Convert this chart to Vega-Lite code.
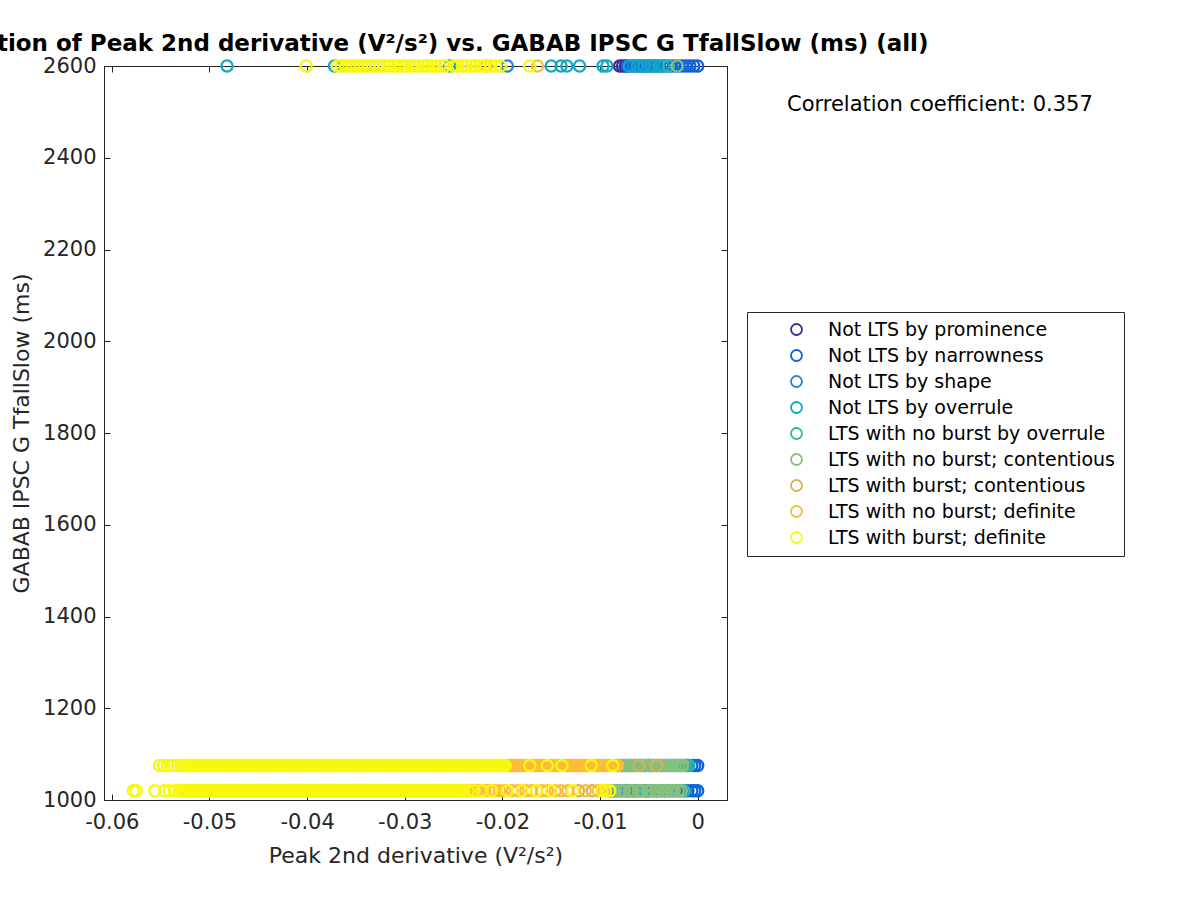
{
  "$schema": "https://vega.github.io/schema/vega-lite/v6.json",
  "width": 623,
  "height": 734,
  "autosize": {"type": "none"},
  "padding": {"left": 104, "top": 66, "right": 473, "bottom": 100},
  "background": "white",
  "title": {
    "text": "Correlation of Peak 2nd derivative (V²/s²) vs. GABAB IPSC G TfallSlow (ms) (all)",
    "font": "DejaVu Sans",
    "fontSize": 23,
    "fontWeight": "bold",
    "color": "black",
    "anchor": "middle",
    "frame": "group",
    "offset": -1
  },
  "config": {
    "view": {"stroke": "#262626", "strokeWidth": 1},
    "axis": {
      "labelFont": "DejaVu Sans",
      "titleFont": "DejaVu Sans",
      "labelFontSize": 21,
      "titleFontSize": 22,
      "titleFontWeight": "normal",
      "labelColor": "#262626",
      "titleColor": "#262626",
      "domainColor": "#262626",
      "tickColor": "#262626",
      "grid": false,
      "tickSize": -6,
      "labelPadding": 17
    }
  },
  "datasets": {
    "groups": [
      {"k": 1, "name": "Not LTS by prominence"},
      {"k": 2, "name": "Not LTS by narrowness"},
      {"k": 3, "name": "Not LTS by shape"},
      {"k": 4, "name": "Not LTS by overrule"},
      {"k": 5, "name": "LTS with no burst by overrule"},
      {"k": 6, "name": "LTS with no burst; contentious"},
      {"k": 7, "name": "LTS with burst; contentious"},
      {"k": 8, "name": "LTS with no burst; definite"},
      {"k": 9, "name": "LTS with burst; definite"}
    ],
    "note": [{"x": 0.0248, "y": 2515, "label": "Correlation coefficient: 0.357"}],
    "pts": [
      {"x": -0.0080, "y": 2600, "k": 1}, {"x": -0.0077, "y": 2600, "k": 1}, {"x": -0.0074, "y": 2600, "k": 1},

      {"x": -0.0090, "y": 1020, "k": 2}, {"x": -0.0086, "y": 1020, "k": 2}, {"x": -0.0082, "y": 1020, "k": 2}, {"x": -0.0078, "y": 1020, "k": 2},
      {"x": -0.0074, "y": 1020, "k": 2}, {"x": -0.0070, "y": 1020, "k": 2}, {"x": -0.0066, "y": 1020, "k": 2}, {"x": -0.0062, "y": 1020, "k": 2},
      {"x": -0.0058, "y": 1020, "k": 2}, {"x": -0.0054, "y": 1020, "k": 2}, {"x": -0.0050, "y": 1020, "k": 2}, {"x": -0.0046, "y": 1020, "k": 2},
      {"x": -0.0042, "y": 1020, "k": 2}, {"x": -0.0038, "y": 1020, "k": 2}, {"x": -0.0034, "y": 1020, "k": 2}, {"x": -0.0030, "y": 1020, "k": 2},
      {"x": -0.0026, "y": 1020, "k": 2}, {"x": -0.0022, "y": 1020, "k": 2}, {"x": -0.0018, "y": 1020, "k": 2}, {"x": -0.0014, "y": 1020, "k": 2},
      {"x": -0.0010, "y": 1020, "k": 2}, {"x": -0.0006, "y": 1020, "k": 2}, {"x": -0.0003, "y": 1020, "k": 2}, {"x": 0.0000, "y": 1020, "k": 2},
      {"x": -0.0082, "y": 1075, "k": 2}, {"x": -0.0078, "y": 1075, "k": 2}, {"x": -0.0074, "y": 1075, "k": 2}, {"x": -0.0070, "y": 1075, "k": 2},
      {"x": -0.0066, "y": 1075, "k": 2}, {"x": -0.0062, "y": 1075, "k": 2}, {"x": -0.0058, "y": 1075, "k": 2}, {"x": -0.0054, "y": 1075, "k": 2},
      {"x": -0.0050, "y": 1075, "k": 2}, {"x": -0.0046, "y": 1075, "k": 2}, {"x": -0.0042, "y": 1075, "k": 2}, {"x": -0.0038, "y": 1075, "k": 2},
      {"x": -0.0034, "y": 1075, "k": 2}, {"x": -0.0030, "y": 1075, "k": 2}, {"x": -0.0026, "y": 1075, "k": 2}, {"x": -0.0022, "y": 1075, "k": 2},
      {"x": -0.0018, "y": 1075, "k": 2}, {"x": -0.0014, "y": 1075, "k": 2}, {"x": -0.0010, "y": 1075, "k": 2}, {"x": -0.0006, "y": 1075, "k": 2},
      {"x": -0.0003, "y": 1075, "k": 2}, {"x": 0.0000, "y": 1075, "k": 2},
      {"x": -0.0072, "y": 2600, "k": 2}, {"x": -0.0068, "y": 2600, "k": 2}, {"x": -0.0064, "y": 2600, "k": 2}, {"x": -0.0060, "y": 2600, "k": 2},
      {"x": -0.0056, "y": 2600, "k": 2}, {"x": -0.0052, "y": 2600, "k": 2}, {"x": -0.0048, "y": 2600, "k": 2}, {"x": -0.0044, "y": 2600, "k": 2},
      {"x": -0.0040, "y": 2600, "k": 2}, {"x": -0.0036, "y": 2600, "k": 2}, {"x": -0.0032, "y": 2600, "k": 2}, {"x": -0.0028, "y": 2600, "k": 2},
      {"x": -0.0024, "y": 2600, "k": 2}, {"x": -0.0020, "y": 2600, "k": 2}, {"x": -0.0016, "y": 2600, "k": 2}, {"x": -0.0012, "y": 2600, "k": 2},
      {"x": -0.0008, "y": 2600, "k": 2}, {"x": -0.0004, "y": 2600, "k": 2}, {"x": 0.0000, "y": 2600, "k": 2},

      {"x": -0.0072, "y": 1020, "k": 3}, {"x": -0.0053, "y": 1020, "k": 3},
      {"x": -0.0195, "y": 2600, "k": 3}, {"x": -0.0066, "y": 2600, "k": 3}, {"x": -0.0058, "y": 2600, "k": 3}, {"x": -0.0051, "y": 2600, "k": 3}, {"x": -0.0044, "y": 2600, "k": 3},

      {"x": -0.0064, "y": 1020, "k": 4},
      {"x": -0.0482, "y": 2600, "k": 4}, {"x": -0.0372, "y": 2600, "k": 4}, {"x": -0.0254, "y": 2600, "k": 4}, {"x": -0.0150, "y": 2600, "k": 4},
      {"x": -0.0140, "y": 2600, "k": 4}, {"x": -0.0134, "y": 2600, "k": 4}, {"x": -0.0121, "y": 2600, "k": 4}, {"x": -0.0097, "y": 2600, "k": 4},
      {"x": -0.0093, "y": 2600, "k": 4}, {"x": -0.0070, "y": 2600, "k": 4}, {"x": -0.0062, "y": 2600, "k": 4}, {"x": -0.0055, "y": 2600, "k": 4},
      {"x": -0.0048, "y": 2600, "k": 4}, {"x": -0.0040, "y": 2600, "k": 4}, {"x": -0.0035, "y": 2600, "k": 4},

      {"x": -0.0014, "y": 1020, "k": 5}, {"x": -0.0012, "y": 1075, "k": 5}, {"x": -0.0009, "y": 1075, "k": 5}, {"x": -0.0030, "y": 2600, "k": 5},

      {"x": -0.0088, "y": 1020, "k": 6}, {"x": -0.0084, "y": 1020, "k": 6}, {"x": -0.0080, "y": 1020, "k": 6}, {"x": -0.0075, "y": 1020, "k": 6},
      {"x": -0.0070, "y": 1020, "k": 6}, {"x": -0.0066, "y": 1020, "k": 6}, {"x": -0.0061, "y": 1020, "k": 6}, {"x": -0.0057, "y": 1020, "k": 6},
      {"x": -0.0052, "y": 1020, "k": 6}, {"x": -0.0048, "y": 1020, "k": 6}, {"x": -0.0044, "y": 1020, "k": 6}, {"x": -0.0040, "y": 1020, "k": 6},
      {"x": -0.0036, "y": 1020, "k": 6}, {"x": -0.0032, "y": 1020, "k": 6}, {"x": -0.0028, "y": 1020, "k": 6}, {"x": -0.0024, "y": 1020, "k": 6},
      {"x": -0.0020, "y": 1020, "k": 6}, {"x": -0.0017, "y": 1020, "k": 6},
      {"x": -0.0086, "y": 1020, "k": 6}, {"x": -0.0078, "y": 1020, "k": 6}, {"x": -0.0068, "y": 1020, "k": 6}, {"x": -0.0059, "y": 1020, "k": 6},
      {"x": -0.0050, "y": 1020, "k": 6}, {"x": -0.0042, "y": 1020, "k": 6}, {"x": -0.0034, "y": 1020, "k": 6}, {"x": -0.0026, "y": 1020, "k": 6},
      {"x": -0.0080, "y": 1075, "k": 6}, {"x": -0.0077, "y": 1075, "k": 6}, {"x": -0.0074, "y": 1075, "k": 6}, {"x": -0.0071, "y": 1075, "k": 6},
      {"x": -0.0068, "y": 1075, "k": 6}, {"x": -0.0065, "y": 1075, "k": 6}, {"x": -0.0062, "y": 1075, "k": 6}, {"x": -0.0059, "y": 1075, "k": 6},
      {"x": -0.0056, "y": 1075, "k": 6}, {"x": -0.0053, "y": 1075, "k": 6}, {"x": -0.0050, "y": 1075, "k": 6}, {"x": -0.0047, "y": 1075, "k": 6},
      {"x": -0.0044, "y": 1075, "k": 6}, {"x": -0.0041, "y": 1075, "k": 6}, {"x": -0.0038, "y": 1075, "k": 6}, {"x": -0.0035, "y": 1075, "k": 6},
      {"x": -0.0032, "y": 1075, "k": 6}, {"x": -0.0029, "y": 1075, "k": 6}, {"x": -0.0026, "y": 1075, "k": 6}, {"x": -0.0023, "y": 1075, "k": 6},
      {"x": -0.0020, "y": 1075, "k": 6}, {"x": -0.0017, "y": 1075, "k": 6}, {"x": -0.0015, "y": 1075, "k": 6},
      {"x": -0.0021, "y": 2600, "k": 6},

      {"x": -0.0122, "y": 1020, "k": 7}, {"x": -0.0108, "y": 1020, "k": 7},
      {"x": -0.0060, "y": 1075, "k": 7}, {"x": -0.0042, "y": 1075, "k": 7},

      {"x": -0.0236, "y": 1020, "k": 8}, {"x": -0.0232, "y": 1020, "k": 8}, {"x": -0.0227, "y": 1020, "k": 8}, {"x": -0.0223, "y": 1020, "k": 8},
      {"x": -0.0218, "y": 1020, "k": 8}, {"x": -0.0214, "y": 1020, "k": 8}, {"x": -0.0208, "y": 1020, "k": 8}, {"x": -0.0203, "y": 1020, "k": 8},
      {"x": -0.0198, "y": 1020, "k": 8}, {"x": -0.0190, "y": 1020, "k": 8}, {"x": -0.0184, "y": 1020, "k": 8}, {"x": -0.0176, "y": 1020, "k": 8},
      {"x": -0.0170, "y": 1020, "k": 8}, {"x": -0.0160, "y": 1020, "k": 8}, {"x": -0.0154, "y": 1020, "k": 8}, {"x": -0.0146, "y": 1020, "k": 8},
      {"x": -0.0140, "y": 1020, "k": 8}, {"x": -0.0133, "y": 1020, "k": 8}, {"x": -0.0115, "y": 1020, "k": 8}, {"x": -0.0102, "y": 1020, "k": 8},
      {"x": -0.0096, "y": 1020, "k": 8},
      {"x": -0.0194, "y": 1075, "k": 8}, {"x": -0.0190, "y": 1075, "k": 8}, {"x": -0.0186, "y": 1075, "k": 8}, {"x": -0.0182, "y": 1075, "k": 8},
      {"x": -0.0178, "y": 1075, "k": 8}, {"x": -0.0174, "y": 1075, "k": 8}, {"x": -0.0170, "y": 1075, "k": 8}, {"x": -0.0166, "y": 1075, "k": 8},
      {"x": -0.0162, "y": 1075, "k": 8}, {"x": -0.0158, "y": 1075, "k": 8}, {"x": -0.0154, "y": 1075, "k": 8}, {"x": -0.0150, "y": 1075, "k": 8},
      {"x": -0.0146, "y": 1075, "k": 8}, {"x": -0.0142, "y": 1075, "k": 8}, {"x": -0.0138, "y": 1075, "k": 8}, {"x": -0.0134, "y": 1075, "k": 8},
      {"x": -0.0130, "y": 1075, "k": 8}, {"x": -0.0126, "y": 1075, "k": 8}, {"x": -0.0122, "y": 1075, "k": 8}, {"x": -0.0118, "y": 1075, "k": 8},
      {"x": -0.0114, "y": 1075, "k": 8}, {"x": -0.0110, "y": 1075, "k": 8}, {"x": -0.0106, "y": 1075, "k": 8}, {"x": -0.0102, "y": 1075, "k": 8},
      {"x": -0.0098, "y": 1075, "k": 8}, {"x": -0.0094, "y": 1075, "k": 8}, {"x": -0.0090, "y": 1075, "k": 8}, {"x": -0.0086, "y": 1075, "k": 8},
      {"x": -0.0082, "y": 1075, "k": 8},
      {"x": -0.0192, "y": 1075, "k": 8}, {"x": -0.0188, "y": 1075, "k": 8}, {"x": -0.0184, "y": 1075, "k": 8}, {"x": -0.0180, "y": 1075, "k": 8},
      {"x": -0.0176, "y": 1075, "k": 8}, {"x": -0.0172, "y": 1075, "k": 8}, {"x": -0.0168, "y": 1075, "k": 8}, {"x": -0.0164, "y": 1075, "k": 8},
      {"x": -0.0160, "y": 1075, "k": 8}, {"x": -0.0156, "y": 1075, "k": 8}, {"x": -0.0152, "y": 1075, "k": 8}, {"x": -0.0148, "y": 1075, "k": 8},
      {"x": -0.0144, "y": 1075, "k": 8}, {"x": -0.0140, "y": 1075, "k": 8}, {"x": -0.0136, "y": 1075, "k": 8}, {"x": -0.0132, "y": 1075, "k": 8},
      {"x": -0.0128, "y": 1075, "k": 8}, {"x": -0.0124, "y": 1075, "k": 8}, {"x": -0.0120, "y": 1075, "k": 8}, {"x": -0.0116, "y": 1075, "k": 8},
      {"x": -0.0112, "y": 1075, "k": 8}, {"x": -0.0108, "y": 1075, "k": 8}, {"x": -0.0104, "y": 1075, "k": 8}, {"x": -0.0100, "y": 1075, "k": 8},
      {"x": -0.0096, "y": 1075, "k": 8}, {"x": -0.0092, "y": 1075, "k": 8}, {"x": -0.0088, "y": 1075, "k": 8}, {"x": -0.0084, "y": 1075, "k": 8},
      {"x": -0.0216, "y": 2600, "k": 8}, {"x": -0.0164, "y": 2600, "k": 8},

      {"x": -0.0578, "y": 1020, "k": 9}, {"x": -0.0575, "y": 1020, "k": 9}, {"x": -0.0556, "y": 1020, "k": 9}, {"x": -0.0546, "y": 1020, "k": 9},
      {"x": -0.0541, "y": 1020, "k": 9}, {"x": -0.0536, "y": 1020, "k": 9}, {"x": -0.0531, "y": 1020, "k": 9},
      {"x": -0.0528, "y": 1020, "k": 9}, {"x": -0.0525, "y": 1020, "k": 9}, {"x": -0.0522, "y": 1020, "k": 9}, {"x": -0.0519, "y": 1020, "k": 9},
      {"x": -0.0516, "y": 1020, "k": 9}, {"x": -0.0513, "y": 1020, "k": 9}, {"x": -0.0510, "y": 1020, "k": 9}, {"x": -0.0507, "y": 1020, "k": 9},
      {"x": -0.0504, "y": 1020, "k": 9}, {"x": -0.0501, "y": 1020, "k": 9}, {"x": -0.0498, "y": 1020, "k": 9}, {"x": -0.0495, "y": 1020, "k": 9},
      {"x": -0.0492, "y": 1020, "k": 9}, {"x": -0.0489, "y": 1020, "k": 9}, {"x": -0.0486, "y": 1020, "k": 9}, {"x": -0.0483, "y": 1020, "k": 9},
      {"x": -0.0480, "y": 1020, "k": 9}, {"x": -0.0477, "y": 1020, "k": 9}, {"x": -0.0474, "y": 1020, "k": 9}, {"x": -0.0471, "y": 1020, "k": 9},
      {"x": -0.0468, "y": 1020, "k": 9}, {"x": -0.0465, "y": 1020, "k": 9}, {"x": -0.0462, "y": 1020, "k": 9}, {"x": -0.0459, "y": 1020, "k": 9},
      {"x": -0.0456, "y": 1020, "k": 9}, {"x": -0.0453, "y": 1020, "k": 9}, {"x": -0.0450, "y": 1020, "k": 9}, {"x": -0.0447, "y": 1020, "k": 9},
      {"x": -0.0444, "y": 1020, "k": 9}, {"x": -0.0441, "y": 1020, "k": 9}, {"x": -0.0438, "y": 1020, "k": 9}, {"x": -0.0435, "y": 1020, "k": 9},
      {"x": -0.0432, "y": 1020, "k": 9}, {"x": -0.0429, "y": 1020, "k": 9}, {"x": -0.0426, "y": 1020, "k": 9}, {"x": -0.0423, "y": 1020, "k": 9},
      {"x": -0.0420, "y": 1020, "k": 9}, {"x": -0.0417, "y": 1020, "k": 9}, {"x": -0.0414, "y": 1020, "k": 9}, {"x": -0.0411, "y": 1020, "k": 9},
      {"x": -0.0408, "y": 1020, "k": 9}, {"x": -0.0405, "y": 1020, "k": 9}, {"x": -0.0402, "y": 1020, "k": 9}, {"x": -0.0399, "y": 1020, "k": 9},
      {"x": -0.0396, "y": 1020, "k": 9}, {"x": -0.0393, "y": 1020, "k": 9}, {"x": -0.0390, "y": 1020, "k": 9}, {"x": -0.0387, "y": 1020, "k": 9},
      {"x": -0.0384, "y": 1020, "k": 9}, {"x": -0.0381, "y": 1020, "k": 9}, {"x": -0.0378, "y": 1020, "k": 9}, {"x": -0.0375, "y": 1020, "k": 9},
      {"x": -0.0372, "y": 1020, "k": 9}, {"x": -0.0369, "y": 1020, "k": 9}, {"x": -0.0366, "y": 1020, "k": 9}, {"x": -0.0363, "y": 1020, "k": 9},
      {"x": -0.0360, "y": 1020, "k": 9}, {"x": -0.0357, "y": 1020, "k": 9}, {"x": -0.0354, "y": 1020, "k": 9}, {"x": -0.0351, "y": 1020, "k": 9},
      {"x": -0.0348, "y": 1020, "k": 9}, {"x": -0.0345, "y": 1020, "k": 9}, {"x": -0.0342, "y": 1020, "k": 9}, {"x": -0.0339, "y": 1020, "k": 9},
      {"x": -0.0336, "y": 1020, "k": 9}, {"x": -0.0333, "y": 1020, "k": 9}, {"x": -0.0330, "y": 1020, "k": 9}, {"x": -0.0327, "y": 1020, "k": 9},
      {"x": -0.0324, "y": 1020, "k": 9}, {"x": -0.0321, "y": 1020, "k": 9}, {"x": -0.0318, "y": 1020, "k": 9}, {"x": -0.0315, "y": 1020, "k": 9},
      {"x": -0.0312, "y": 1020, "k": 9}, {"x": -0.0309, "y": 1020, "k": 9}, {"x": -0.0306, "y": 1020, "k": 9}, {"x": -0.0303, "y": 1020, "k": 9},
      {"x": -0.0300, "y": 1020, "k": 9}, {"x": -0.0297, "y": 1020, "k": 9}, {"x": -0.0294, "y": 1020, "k": 9}, {"x": -0.0291, "y": 1020, "k": 9},
      {"x": -0.0288, "y": 1020, "k": 9}, {"x": -0.0285, "y": 1020, "k": 9}, {"x": -0.0282, "y": 1020, "k": 9}, {"x": -0.0279, "y": 1020, "k": 9},
      {"x": -0.0276, "y": 1020, "k": 9}, {"x": -0.0273, "y": 1020, "k": 9}, {"x": -0.0270, "y": 1020, "k": 9}, {"x": -0.0267, "y": 1020, "k": 9},
      {"x": -0.0264, "y": 1020, "k": 9}, {"x": -0.0261, "y": 1020, "k": 9}, {"x": -0.0258, "y": 1020, "k": 9}, {"x": -0.0255, "y": 1020, "k": 9},
      {"x": -0.0252, "y": 1020, "k": 9}, {"x": -0.0249, "y": 1020, "k": 9}, {"x": -0.0246, "y": 1020, "k": 9}, {"x": -0.0243, "y": 1020, "k": 9},
      {"x": -0.0240, "y": 1020, "k": 9},
      {"x": -0.0527, "y": 1020, "k": 9}, {"x": -0.0524, "y": 1020, "k": 9}, {"x": -0.0521, "y": 1020, "k": 9}, {"x": -0.0518, "y": 1020, "k": 9},
      {"x": -0.0515, "y": 1020, "k": 9}, {"x": -0.0512, "y": 1020, "k": 9}, {"x": -0.0509, "y": 1020, "k": 9}, {"x": -0.0506, "y": 1020, "k": 9},
      {"x": -0.0503, "y": 1020, "k": 9}, {"x": -0.0500, "y": 1020, "k": 9}, {"x": -0.0497, "y": 1020, "k": 9}, {"x": -0.0494, "y": 1020, "k": 9},
      {"x": -0.0491, "y": 1020, "k": 9}, {"x": -0.0488, "y": 1020, "k": 9}, {"x": -0.0485, "y": 1020, "k": 9}, {"x": -0.0482, "y": 1020, "k": 9},
      {"x": -0.0479, "y": 1020, "k": 9}, {"x": -0.0476, "y": 1020, "k": 9}, {"x": -0.0473, "y": 1020, "k": 9}, {"x": -0.0470, "y": 1020, "k": 9},
      {"x": -0.0467, "y": 1020, "k": 9}, {"x": -0.0464, "y": 1020, "k": 9}, {"x": -0.0461, "y": 1020, "k": 9}, {"x": -0.0458, "y": 1020, "k": 9},
      {"x": -0.0455, "y": 1020, "k": 9}, {"x": -0.0452, "y": 1020, "k": 9}, {"x": -0.0449, "y": 1020, "k": 9}, {"x": -0.0446, "y": 1020, "k": 9},
      {"x": -0.0443, "y": 1020, "k": 9}, {"x": -0.0440, "y": 1020, "k": 9}, {"x": -0.0437, "y": 1020, "k": 9}, {"x": -0.0434, "y": 1020, "k": 9},
      {"x": -0.0431, "y": 1020, "k": 9}, {"x": -0.0428, "y": 1020, "k": 9}, {"x": -0.0425, "y": 1020, "k": 9}, {"x": -0.0422, "y": 1020, "k": 9},
      {"x": -0.0419, "y": 1020, "k": 9}, {"x": -0.0416, "y": 1020, "k": 9}, {"x": -0.0413, "y": 1020, "k": 9}, {"x": -0.0410, "y": 1020, "k": 9},
      {"x": -0.0407, "y": 1020, "k": 9}, {"x": -0.0404, "y": 1020, "k": 9}, {"x": -0.0401, "y": 1020, "k": 9}, {"x": -0.0398, "y": 1020, "k": 9},
      {"x": -0.0395, "y": 1020, "k": 9}, {"x": -0.0392, "y": 1020, "k": 9}, {"x": -0.0389, "y": 1020, "k": 9}, {"x": -0.0386, "y": 1020, "k": 9},
      {"x": -0.0383, "y": 1020, "k": 9}, {"x": -0.0380, "y": 1020, "k": 9}, {"x": -0.0377, "y": 1020, "k": 9}, {"x": -0.0374, "y": 1020, "k": 9},
      {"x": -0.0371, "y": 1020, "k": 9}, {"x": -0.0368, "y": 1020, "k": 9}, {"x": -0.0365, "y": 1020, "k": 9}, {"x": -0.0362, "y": 1020, "k": 9},
      {"x": -0.0359, "y": 1020, "k": 9}, {"x": -0.0356, "y": 1020, "k": 9}, {"x": -0.0353, "y": 1020, "k": 9}, {"x": -0.0350, "y": 1020, "k": 9},
      {"x": -0.0347, "y": 1020, "k": 9}, {"x": -0.0344, "y": 1020, "k": 9}, {"x": -0.0341, "y": 1020, "k": 9}, {"x": -0.0338, "y": 1020, "k": 9},
      {"x": -0.0335, "y": 1020, "k": 9}, {"x": -0.0332, "y": 1020, "k": 9}, {"x": -0.0329, "y": 1020, "k": 9}, {"x": -0.0326, "y": 1020, "k": 9},
      {"x": -0.0323, "y": 1020, "k": 9}, {"x": -0.0320, "y": 1020, "k": 9}, {"x": -0.0317, "y": 1020, "k": 9}, {"x": -0.0314, "y": 1020, "k": 9},
      {"x": -0.0311, "y": 1020, "k": 9}, {"x": -0.0308, "y": 1020, "k": 9}, {"x": -0.0305, "y": 1020, "k": 9}, {"x": -0.0302, "y": 1020, "k": 9},
      {"x": -0.0299, "y": 1020, "k": 9}, {"x": -0.0296, "y": 1020, "k": 9}, {"x": -0.0293, "y": 1020, "k": 9}, {"x": -0.0290, "y": 1020, "k": 9},
      {"x": -0.0287, "y": 1020, "k": 9}, {"x": -0.0284, "y": 1020, "k": 9}, {"x": -0.0281, "y": 1020, "k": 9}, {"x": -0.0278, "y": 1020, "k": 9},
      {"x": -0.0275, "y": 1020, "k": 9}, {"x": -0.0272, "y": 1020, "k": 9}, {"x": -0.0269, "y": 1020, "k": 9}, {"x": -0.0266, "y": 1020, "k": 9},
      {"x": -0.0263, "y": 1020, "k": 9}, {"x": -0.0260, "y": 1020, "k": 9}, {"x": -0.0257, "y": 1020, "k": 9}, {"x": -0.0254, "y": 1020, "k": 9},
      {"x": -0.0251, "y": 1020, "k": 9}, {"x": -0.0248, "y": 1020, "k": 9}, {"x": -0.0245, "y": 1020, "k": 9}, {"x": -0.0242, "y": 1020, "k": 9},
      {"x": -0.0235, "y": 1020, "k": 9}, {"x": -0.0229, "y": 1020, "k": 9}, {"x": -0.0221, "y": 1020, "k": 9}, {"x": -0.0211, "y": 1020, "k": 9},
      {"x": -0.0195, "y": 1020, "k": 9}, {"x": -0.0180, "y": 1020, "k": 9}, {"x": -0.0165, "y": 1020, "k": 9}, {"x": -0.0150, "y": 1020, "k": 9},
      {"x": -0.0128, "y": 1020, "k": 9}, {"x": -0.0098, "y": 1020, "k": 9}, {"x": -0.0094, "y": 1020, "k": 9}, {"x": -0.0090, "y": 1020, "k": 9},

      {"x": -0.0551, "y": 1075, "k": 9}, {"x": -0.0547, "y": 1075, "k": 9}, {"x": -0.0543, "y": 1075, "k": 9}, {"x": -0.0538, "y": 1075, "k": 9},
      {"x": -0.0533, "y": 1075, "k": 9}, {"x": -0.0529, "y": 1075, "k": 9},
      {"x": -0.0525, "y": 1075, "k": 9}, {"x": -0.0522, "y": 1075, "k": 9}, {"x": -0.0519, "y": 1075, "k": 9}, {"x": -0.0516, "y": 1075, "k": 9},
      {"x": -0.0513, "y": 1075, "k": 9}, {"x": -0.0510, "y": 1075, "k": 9}, {"x": -0.0507, "y": 1075, "k": 9}, {"x": -0.0504, "y": 1075, "k": 9},
      {"x": -0.0501, "y": 1075, "k": 9}, {"x": -0.0498, "y": 1075, "k": 9}, {"x": -0.0495, "y": 1075, "k": 9}, {"x": -0.0492, "y": 1075, "k": 9},
      {"x": -0.0489, "y": 1075, "k": 9}, {"x": -0.0486, "y": 1075, "k": 9}, {"x": -0.0483, "y": 1075, "k": 9}, {"x": -0.0480, "y": 1075, "k": 9},
      {"x": -0.0477, "y": 1075, "k": 9}, {"x": -0.0474, "y": 1075, "k": 9}, {"x": -0.0471, "y": 1075, "k": 9}, {"x": -0.0468, "y": 1075, "k": 9},
      {"x": -0.0465, "y": 1075, "k": 9}, {"x": -0.0462, "y": 1075, "k": 9}, {"x": -0.0459, "y": 1075, "k": 9}, {"x": -0.0456, "y": 1075, "k": 9},
      {"x": -0.0453, "y": 1075, "k": 9}, {"x": -0.0450, "y": 1075, "k": 9}, {"x": -0.0447, "y": 1075, "k": 9}, {"x": -0.0444, "y": 1075, "k": 9},
      {"x": -0.0441, "y": 1075, "k": 9}, {"x": -0.0438, "y": 1075, "k": 9}, {"x": -0.0435, "y": 1075, "k": 9}, {"x": -0.0432, "y": 1075, "k": 9},
      {"x": -0.0429, "y": 1075, "k": 9}, {"x": -0.0426, "y": 1075, "k": 9}, {"x": -0.0423, "y": 1075, "k": 9}, {"x": -0.0420, "y": 1075, "k": 9},
      {"x": -0.0417, "y": 1075, "k": 9}, {"x": -0.0414, "y": 1075, "k": 9}, {"x": -0.0411, "y": 1075, "k": 9}, {"x": -0.0408, "y": 1075, "k": 9},
      {"x": -0.0405, "y": 1075, "k": 9}, {"x": -0.0402, "y": 1075, "k": 9}, {"x": -0.0399, "y": 1075, "k": 9}, {"x": -0.0396, "y": 1075, "k": 9},
      {"x": -0.0393, "y": 1075, "k": 9}, {"x": -0.0390, "y": 1075, "k": 9}, {"x": -0.0387, "y": 1075, "k": 9}, {"x": -0.0384, "y": 1075, "k": 9},
      {"x": -0.0381, "y": 1075, "k": 9}, {"x": -0.0378, "y": 1075, "k": 9}, {"x": -0.0375, "y": 1075, "k": 9}, {"x": -0.0372, "y": 1075, "k": 9},
      {"x": -0.0369, "y": 1075, "k": 9}, {"x": -0.0366, "y": 1075, "k": 9}, {"x": -0.0363, "y": 1075, "k": 9}, {"x": -0.0360, "y": 1075, "k": 9},
      {"x": -0.0357, "y": 1075, "k": 9}, {"x": -0.0354, "y": 1075, "k": 9}, {"x": -0.0351, "y": 1075, "k": 9}, {"x": -0.0348, "y": 1075, "k": 9},
      {"x": -0.0345, "y": 1075, "k": 9}, {"x": -0.0342, "y": 1075, "k": 9}, {"x": -0.0339, "y": 1075, "k": 9}, {"x": -0.0336, "y": 1075, "k": 9},
      {"x": -0.0333, "y": 1075, "k": 9}, {"x": -0.0330, "y": 1075, "k": 9}, {"x": -0.0327, "y": 1075, "k": 9}, {"x": -0.0324, "y": 1075, "k": 9},
      {"x": -0.0321, "y": 1075, "k": 9}, {"x": -0.0318, "y": 1075, "k": 9}, {"x": -0.0315, "y": 1075, "k": 9}, {"x": -0.0312, "y": 1075, "k": 9},
      {"x": -0.0309, "y": 1075, "k": 9}, {"x": -0.0306, "y": 1075, "k": 9}, {"x": -0.0303, "y": 1075, "k": 9}, {"x": -0.0300, "y": 1075, "k": 9},
      {"x": -0.0297, "y": 1075, "k": 9}, {"x": -0.0294, "y": 1075, "k": 9}, {"x": -0.0291, "y": 1075, "k": 9}, {"x": -0.0288, "y": 1075, "k": 9},
      {"x": -0.0285, "y": 1075, "k": 9}, {"x": -0.0282, "y": 1075, "k": 9}, {"x": -0.0279, "y": 1075, "k": 9}, {"x": -0.0276, "y": 1075, "k": 9},
      {"x": -0.0273, "y": 1075, "k": 9}, {"x": -0.0270, "y": 1075, "k": 9}, {"x": -0.0267, "y": 1075, "k": 9}, {"x": -0.0264, "y": 1075, "k": 9},
      {"x": -0.0261, "y": 1075, "k": 9}, {"x": -0.0258, "y": 1075, "k": 9}, {"x": -0.0255, "y": 1075, "k": 9}, {"x": -0.0252, "y": 1075, "k": 9},
      {"x": -0.0249, "y": 1075, "k": 9}, {"x": -0.0246, "y": 1075, "k": 9}, {"x": -0.0243, "y": 1075, "k": 9}, {"x": -0.0240, "y": 1075, "k": 9},
      {"x": -0.0237, "y": 1075, "k": 9}, {"x": -0.0234, "y": 1075, "k": 9}, {"x": -0.0231, "y": 1075, "k": 9}, {"x": -0.0228, "y": 1075, "k": 9},
      {"x": -0.0225, "y": 1075, "k": 9}, {"x": -0.0222, "y": 1075, "k": 9}, {"x": -0.0219, "y": 1075, "k": 9}, {"x": -0.0216, "y": 1075, "k": 9},
      {"x": -0.0213, "y": 1075, "k": 9}, {"x": -0.0210, "y": 1075, "k": 9}, {"x": -0.0207, "y": 1075, "k": 9}, {"x": -0.0204, "y": 1075, "k": 9},
      {"x": -0.0201, "y": 1075, "k": 9}, {"x": -0.0198, "y": 1075, "k": 9},
      {"x": -0.0524, "y": 1075, "k": 9}, {"x": -0.0521, "y": 1075, "k": 9}, {"x": -0.0518, "y": 1075, "k": 9}, {"x": -0.0515, "y": 1075, "k": 9},
      {"x": -0.0512, "y": 1075, "k": 9}, {"x": -0.0509, "y": 1075, "k": 9}, {"x": -0.0506, "y": 1075, "k": 9}, {"x": -0.0503, "y": 1075, "k": 9},
      {"x": -0.0500, "y": 1075, "k": 9}, {"x": -0.0497, "y": 1075, "k": 9}, {"x": -0.0494, "y": 1075, "k": 9}, {"x": -0.0491, "y": 1075, "k": 9},
      {"x": -0.0488, "y": 1075, "k": 9}, {"x": -0.0485, "y": 1075, "k": 9}, {"x": -0.0482, "y": 1075, "k": 9}, {"x": -0.0479, "y": 1075, "k": 9},
      {"x": -0.0476, "y": 1075, "k": 9}, {"x": -0.0473, "y": 1075, "k": 9}, {"x": -0.0470, "y": 1075, "k": 9}, {"x": -0.0467, "y": 1075, "k": 9},
      {"x": -0.0464, "y": 1075, "k": 9}, {"x": -0.0461, "y": 1075, "k": 9}, {"x": -0.0458, "y": 1075, "k": 9}, {"x": -0.0455, "y": 1075, "k": 9},
      {"x": -0.0452, "y": 1075, "k": 9}, {"x": -0.0449, "y": 1075, "k": 9}, {"x": -0.0446, "y": 1075, "k": 9}, {"x": -0.0443, "y": 1075, "k": 9},
      {"x": -0.0440, "y": 1075, "k": 9}, {"x": -0.0437, "y": 1075, "k": 9}, {"x": -0.0434, "y": 1075, "k": 9}, {"x": -0.0431, "y": 1075, "k": 9},
      {"x": -0.0428, "y": 1075, "k": 9}, {"x": -0.0425, "y": 1075, "k": 9}, {"x": -0.0422, "y": 1075, "k": 9}, {"x": -0.0419, "y": 1075, "k": 9},
      {"x": -0.0416, "y": 1075, "k": 9}, {"x": -0.0413, "y": 1075, "k": 9}, {"x": -0.0410, "y": 1075, "k": 9}, {"x": -0.0407, "y": 1075, "k": 9},
      {"x": -0.0404, "y": 1075, "k": 9}, {"x": -0.0401, "y": 1075, "k": 9}, {"x": -0.0398, "y": 1075, "k": 9}, {"x": -0.0395, "y": 1075, "k": 9},
      {"x": -0.0392, "y": 1075, "k": 9}, {"x": -0.0389, "y": 1075, "k": 9}, {"x": -0.0386, "y": 1075, "k": 9}, {"x": -0.0383, "y": 1075, "k": 9},
      {"x": -0.0380, "y": 1075, "k": 9}, {"x": -0.0377, "y": 1075, "k": 9}, {"x": -0.0374, "y": 1075, "k": 9}, {"x": -0.0371, "y": 1075, "k": 9},
      {"x": -0.0368, "y": 1075, "k": 9}, {"x": -0.0365, "y": 1075, "k": 9}, {"x": -0.0362, "y": 1075, "k": 9}, {"x": -0.0359, "y": 1075, "k": 9},
      {"x": -0.0356, "y": 1075, "k": 9}, {"x": -0.0353, "y": 1075, "k": 9}, {"x": -0.0350, "y": 1075, "k": 9}, {"x": -0.0347, "y": 1075, "k": 9},
      {"x": -0.0344, "y": 1075, "k": 9}, {"x": -0.0341, "y": 1075, "k": 9}, {"x": -0.0338, "y": 1075, "k": 9}, {"x": -0.0335, "y": 1075, "k": 9},
      {"x": -0.0332, "y": 1075, "k": 9}, {"x": -0.0329, "y": 1075, "k": 9}, {"x": -0.0326, "y": 1075, "k": 9}, {"x": -0.0323, "y": 1075, "k": 9},
      {"x": -0.0320, "y": 1075, "k": 9}, {"x": -0.0317, "y": 1075, "k": 9}, {"x": -0.0314, "y": 1075, "k": 9}, {"x": -0.0311, "y": 1075, "k": 9},
      {"x": -0.0308, "y": 1075, "k": 9}, {"x": -0.0305, "y": 1075, "k": 9}, {"x": -0.0302, "y": 1075, "k": 9}, {"x": -0.0299, "y": 1075, "k": 9},
      {"x": -0.0296, "y": 1075, "k": 9}, {"x": -0.0293, "y": 1075, "k": 9}, {"x": -0.0290, "y": 1075, "k": 9}, {"x": -0.0287, "y": 1075, "k": 9},
      {"x": -0.0284, "y": 1075, "k": 9}, {"x": -0.0281, "y": 1075, "k": 9}, {"x": -0.0278, "y": 1075, "k": 9}, {"x": -0.0275, "y": 1075, "k": 9},
      {"x": -0.0272, "y": 1075, "k": 9}, {"x": -0.0269, "y": 1075, "k": 9}, {"x": -0.0266, "y": 1075, "k": 9}, {"x": -0.0263, "y": 1075, "k": 9},
      {"x": -0.0260, "y": 1075, "k": 9}, {"x": -0.0257, "y": 1075, "k": 9}, {"x": -0.0254, "y": 1075, "k": 9}, {"x": -0.0251, "y": 1075, "k": 9},
      {"x": -0.0248, "y": 1075, "k": 9}, {"x": -0.0245, "y": 1075, "k": 9}, {"x": -0.0242, "y": 1075, "k": 9}, {"x": -0.0239, "y": 1075, "k": 9},
      {"x": -0.0236, "y": 1075, "k": 9}, {"x": -0.0233, "y": 1075, "k": 9}, {"x": -0.0230, "y": 1075, "k": 9}, {"x": -0.0227, "y": 1075, "k": 9},
      {"x": -0.0224, "y": 1075, "k": 9}, {"x": -0.0221, "y": 1075, "k": 9}, {"x": -0.0218, "y": 1075, "k": 9}, {"x": -0.0215, "y": 1075, "k": 9},
      {"x": -0.0212, "y": 1075, "k": 9}, {"x": -0.0209, "y": 1075, "k": 9}, {"x": -0.0206, "y": 1075, "k": 9}, {"x": -0.0203, "y": 1075, "k": 9},
      {"x": -0.0200, "y": 1075, "k": 9}, {"x": -0.0197, "y": 1075, "k": 9},
      {"x": -0.0172, "y": 1075, "k": 9}, {"x": -0.0154, "y": 1075, "k": 9}, {"x": -0.0139, "y": 1075, "k": 9}, {"x": -0.0109, "y": 1075, "k": 9},
      {"x": -0.0087, "y": 1075, "k": 9},

      {"x": -0.0401, "y": 2600, "k": 9},
      {"x": -0.0369, "y": 2600, "k": 9}, {"x": -0.0365, "y": 2600, "k": 9}, {"x": -0.0361, "y": 2600, "k": 9}, {"x": -0.0357, "y": 2600, "k": 9},
      {"x": -0.0353, "y": 2600, "k": 9}, {"x": -0.0349, "y": 2600, "k": 9}, {"x": -0.0345, "y": 2600, "k": 9}, {"x": -0.0341, "y": 2600, "k": 9},
      {"x": -0.0337, "y": 2600, "k": 9}, {"x": -0.0333, "y": 2600, "k": 9}, {"x": -0.0329, "y": 2600, "k": 9}, {"x": -0.0325, "y": 2600, "k": 9},
      {"x": -0.0321, "y": 2600, "k": 9}, {"x": -0.0316, "y": 2600, "k": 9}, {"x": -0.0311, "y": 2600, "k": 9}, {"x": -0.0307, "y": 2600, "k": 9},
      {"x": -0.0303, "y": 2600, "k": 9}, {"x": -0.0299, "y": 2600, "k": 9}, {"x": -0.0294, "y": 2600, "k": 9}, {"x": -0.0290, "y": 2600, "k": 9},
      {"x": -0.0286, "y": 2600, "k": 9}, {"x": -0.0281, "y": 2600, "k": 9}, {"x": -0.0277, "y": 2600, "k": 9}, {"x": -0.0272, "y": 2600, "k": 9},
      {"x": -0.0268, "y": 2600, "k": 9}, {"x": -0.0264, "y": 2600, "k": 9}, {"x": -0.0259, "y": 2600, "k": 9}, {"x": -0.0250, "y": 2600, "k": 9},
      {"x": -0.0246, "y": 2600, "k": 9}, {"x": -0.0241, "y": 2600, "k": 9}, {"x": -0.0237, "y": 2600, "k": 9}, {"x": -0.0232, "y": 2600, "k": 9},
      {"x": -0.0228, "y": 2600, "k": 9}, {"x": -0.0223, "y": 2600, "k": 9}, {"x": -0.0219, "y": 2600, "k": 9}, {"x": -0.0212, "y": 2600, "k": 9},
      {"x": -0.0207, "y": 2600, "k": 9}, {"x": -0.0202, "y": 2600, "k": 9}, {"x": -0.0172, "y": 2600, "k": 9}
    ]
  },
  "layer": [
    {
      "data": {"name": "pts"},
      "transform": [
        {"lookup": "k", "from": {"data": {"name": "groups"}, "key": "k", "fields": ["name"]}}
      ],
      "mark": {"type": "point", "filled": false, "shape": "circle", "size": 125, "strokeWidth": 2.3, "opacity": 1, "clip": false},
      "encoding": {
        "x": {
          "field": "x", "type": "quantitative",
          "scale": {"domain": [-0.0608, 0.003], "nice": false, "zero": false},
          "axis": {"orient": "bottom", "values": [-0.06, -0.05, -0.04, -0.03, -0.02, -0.01, 0],
                   "labelExpr": "toString(datum.value)", "title": "Peak 2nd derivative (V²/s²)", "titlePadding": 13}
        },
        "y": {
          "field": "y", "type": "quantitative",
          "scale": {"domain": [1000, 2600], "nice": false, "zero": false},
          "axis": {"orient": "left", "values": [1000, 1200, 1400, 1600, 1800, 2000, 2200, 2400, 2600],
                   "format": "d", "title": "GABAB IPSC G TfallSlow (ms)", "titlePadding": 9, "labelPadding": 14}
        },
        "color": {
          "field": "name", "type": "nominal",
          "scale": {
            "domain": ["Not LTS by prominence", "Not LTS by narrowness", "Not LTS by shape", "Not LTS by overrule",
                       "LTS with no burst by overrule", "LTS with no burst; contentious", "LTS with burst; contentious",
                       "LTS with no burst; definite", "LTS with burst; definite"],
            "range": ["#3d2c8e", "#0c62e0", "#1f87d8", "#0ea8c9", "#2fb8a0", "#86c07c", "#d3b251", "#fdbc38", "#f8f80f"]
          },
          "legend": {
            "orient": "none", "legendX": 643, "legendY": 246, "title": null,
            "strokeColor": "#262626", "fillColor": "white", "padding": 8,
            "rowPadding": 6, "labelFont": "DejaVu Sans", "labelFontSize": 19, "labelColor": "black",
            "symbolType": "circle", "symbolSize": 120, "symbolStrokeWidth": 1.8, "symbolOffset": 32, "labelOffset": 22,
            "labelLimit": 500
          }
        },
        "order": {"field": "k", "type": "quantitative"}
      }
    },
    {
      "data": {"name": "note"},
      "mark": {"type": "text", "font": "DejaVu Sans", "fontSize": 21, "color": "black", "align": "center", "baseline": "middle", "clip": false},
      "encoding": {
        "x": {
          "field": "x", "type": "quantitative",
          "scale": {"domain": [-0.0608, 0.003], "nice": false, "zero": false},
          "axis": {"orient": "top", "values": [-0.06, -0.05, -0.04, -0.03, -0.02, -0.01, 0], "labels": false, "title": null}
        },
        "y": {
          "field": "y", "type": "quantitative",
          "scale": {"domain": [1000, 2600], "nice": false, "zero": false},
          "axis": {"orient": "right", "values": [1000, 1200, 1400, 1600, 1800, 2000, 2200, 2400, 2600], "labels": false, "title": null}
        },
        "text": {"field": "label"}
      }
    }
  ],
  "resolve": {"axis": {"x": "independent", "y": "independent"}}
}
